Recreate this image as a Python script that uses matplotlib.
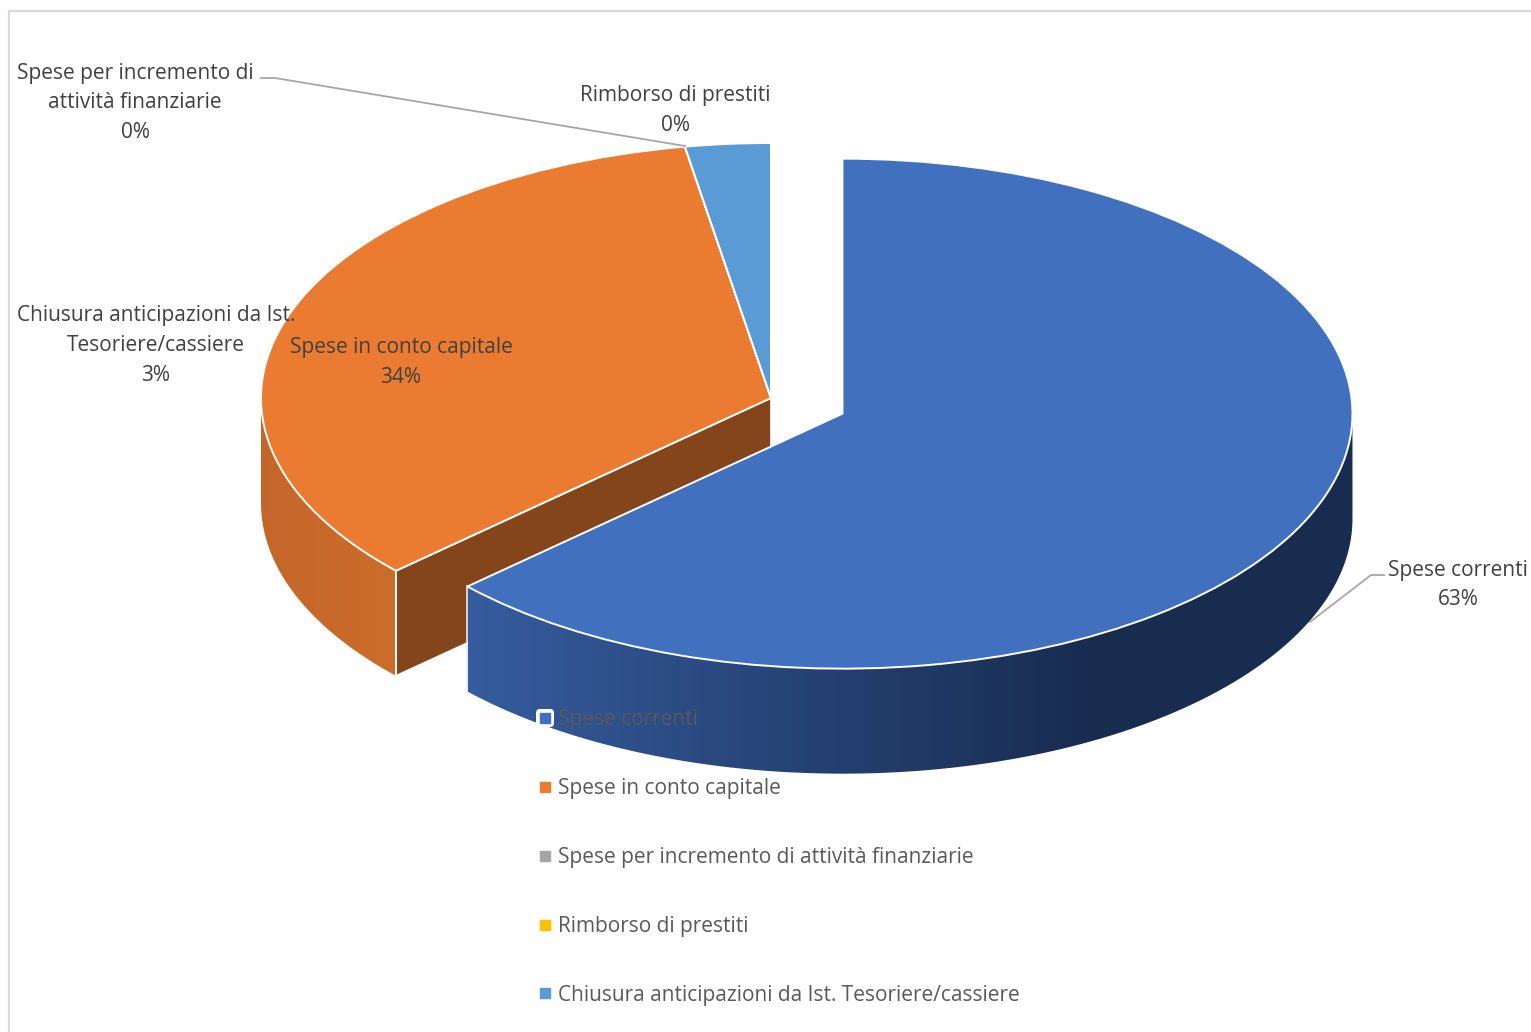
import matplotlib
matplotlib.use('Agg')
import matplotlib.pyplot as plt
import numpy as np
from matplotlib.colors import LinearSegmentedColormap
from matplotlib.lines import Line2D
from matplotlib.patches import FancyBboxPatch, Polygon

plt.rcParams['font.family'] = ['Open Sans', 'DejaVu Sans']

categories = ['Spese correnti', 'Spese in conto capitale',
              'Spese per incremento di attività finanziarie',
              'Rimborso di prestiti',
              'Chiusura anticipazioni da Ist. Tesoriere/cassiere']
values = [63.15, 34.15, 0.0, 0.0, 2.7]
explode = [0.153, 0, 0, 0, 0]
colors = ['#4170BE', '#EA7B30', '#A5A5A5', '#FFC000', '#5B9BD5']
percent = ['%.0f%%' % v for v in values]

W, H = 1531, 1032
# pie centre and radii in pixels, depth of the slab
cx, cy, rx, ry, depth_px = 771, 398, 510, 255, 105
depth = depth_px / ry
text_col = '#404040'
fs = 15

fig = plt.figure(figsize=(W / 100, H / 100), dpi=100)
ax = fig.add_axes([0, 0, 1, 1])
wedges, _ = ax.pie(values, explode=explode, colors=colors, startangle=90,
                   counterclock=False, radius=1,
                   wedgeprops={'edgecolor': 'white', 'linewidth': 1.4, 'zorder': 5})
ax.set_aspect('auto')
xlim = (-cx / rx, (W - cx) / rx)
ylim = ((cy - H) / ry, cy / ry)


def wall(w, stops, x0, x1, z):
    # outer side of a slice, only the part facing the viewer
    t = np.radians(np.linspace(w.theta1, w.theta2, 400))
    t = t[np.sin(t) <= 0]
    x = w.center[0] + w.r * np.cos(t)
    y = w.center[1] + w.r * np.sin(t)
    pts = np.r_[np.c_[x, y], np.c_[x, y - depth][::-1]]
    cmap = LinearSegmentedColormap.from_list('w', stops)
    im = ax.imshow(np.linspace(0, 1, 256)[None, :], cmap=cmap, aspect='auto', zorder=z,
                   extent=((x0 - cx) / rx, (x1 - cx) / rx, ylim[0], ylim[1]))
    clip = Polygon(pts, transform=ax.transData, facecolor='none', edgecolor='none')
    ax.add_patch(clip)
    im.set_clip_path(clip)


# orange slice: cut face first, then rim
org = wedges[1]
a = np.radians(org.theta2 if np.sin(np.radians(org.theta2)) < 0 else org.theta1)
ex, ey = np.cos(a), np.sin(a)
ax.add_patch(Polygon([(0, 0), (ex, ey), (ex, ey - depth), (0, -depth)], closed=True,
                     facecolor='#85451B', edgecolor='white', linewidth=1.2, zorder=2))
wall(org, ['#C4662A', '#CC6D2A'], 250, 400, 2)
ax.plot([ex, ex], [ey, ey - depth], color='white', lw=1.4, zorder=3)

# blue slice rim, in front of the orange one
blu = wedges[0]
wall(blu, [(0, '#365C9E'), (0.7, '#182C50'), (1, '#182C50')], 468, 1357, 3)
bt = np.radians(blu.theta1)
bx, by = blu.center[0] + np.cos(bt), blu.center[1] + np.sin(bt)
ax.plot([bx, bx], [by, by - depth], color='#E8ECF4', lw=1.2, zorder=4)

ax.set_xlim(xlim)
ax.set_ylim(ylim)
ax.axis('off')

# overlay in pixel coordinates for frame, labels and legend
ov = fig.add_axes([0, 0, 1, 1], facecolor='none')
ov.set_xlim(0, W)
ov.set_ylim(H, 0)
ov.axis('off')

ov.plot([9, 9, W], [H, 11, 11], color='#D9D9D9', lw=1.6, zorder=1)

lead = '#A6A6A6'
ov.plot([261, 275, 685], [78, 78, 146], color=lead, lw=1.3)
ov.plot([1384, 1371, 1310], [575, 575, 622], color=lead, lw=1.3)

lab = dict(ha='center', va='center', color=text_col, fontsize=fs, linespacing=1.54)
ov.text(135, 103, 'Spese per incremento di\nattività finanziarie\n' + percent[2], **lab)
ov.text(675, 110.5, categories[3] + '\n' + percent[3], **lab)
ov.text(156, 345.5, 'Chiusura anticipazioni da Ist.\nTesoriere/cassiere\n' + percent[4], **lab)
ov.text(401, 362.5, categories[1] + '\n' + percent[1], **lab)
ov.text(1458, 585, categories[0] + '\n' + percent[0], **lab)

# legend, first entry sits on the blue rim with a white selection box
ov.add_patch(FancyBboxPatch((539, 712), 12, 12, boxstyle='round,pad=3,rounding_size=4',
                            facecolor='white', edgecolor='none', zorder=3))
handles = [Line2D([], [], ls='none', marker='s', ms=6.5, color=c) for c in colors]
leg = ov.legend(handles, categories, loc='upper left', bbox_to_anchor=(536.7, 709.5),
                bbox_transform=ov.transData, frameon=False, fontsize=fs,
                labelcolor='#595959', labelspacing=2.295, handlelength=0.8,
                handletextpad=0.2, borderpad=0, borderaxespad=0)
leg.set_zorder(4)

fig.savefig('out.png', dpi=100, facecolor='white')
